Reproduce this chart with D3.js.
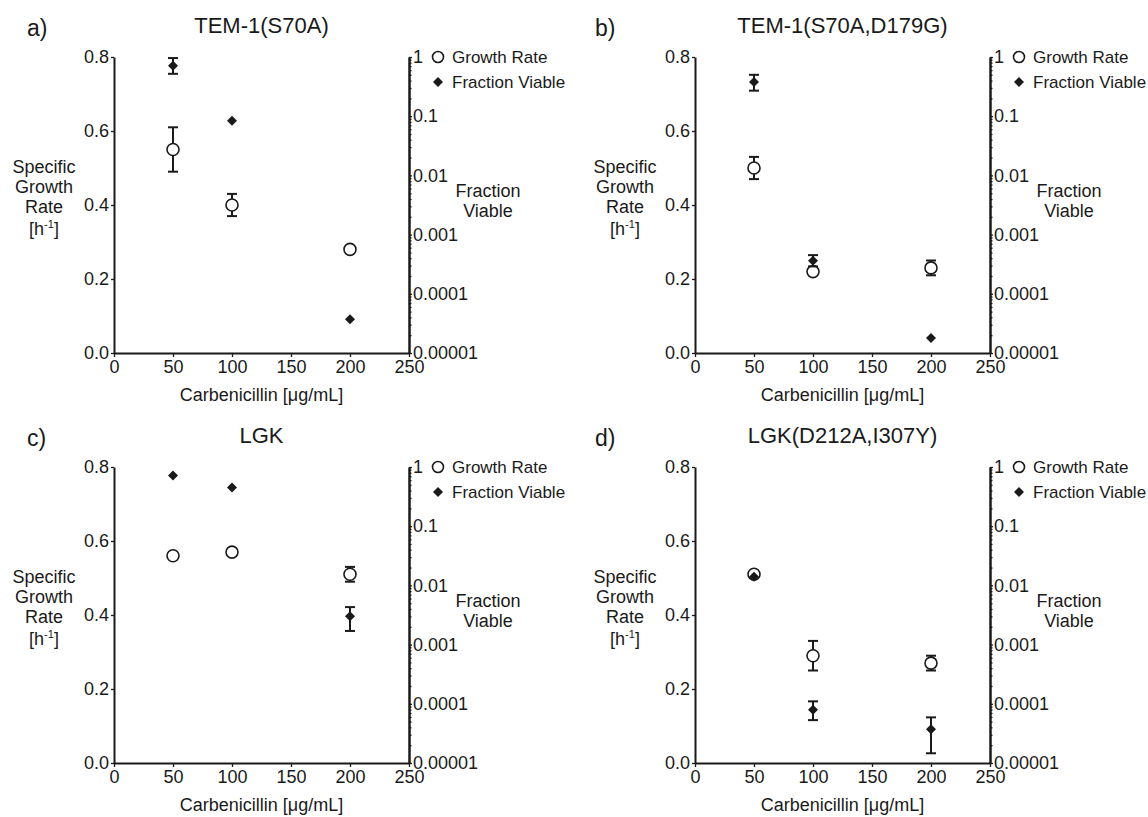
<!DOCTYPE html>
<html>
<head>
<meta charset="utf-8">
<script src="https://cdn.jsdelivr.net/npm/d3@7"></script>
<style>
  body { margin: 0; background: #fff; }
  text { font-family: "Liberation Sans", Arial, sans-serif; fill: #1a1a1a; }
</style>
</head>
<body>
<svg id="chart" width="1148" height="817"></svg>
<script>
// panels and doses
const panelLetters = ['a)', 'b)', 'c)', 'd)'];
const panelTitles = ['TEM-1(S70A)', 'TEM-1(S70A,D179G)', 'LGK', 'LGK(D212A,I307Y)'];
const doses = [50, 100, 200];

// specific growth rate [h-1], with error range (null = no bar)
const growthRate = [
  [0.55, 0.40, 0.28],
  [0.50, 0.22, 0.23],
  [0.56, 0.57, 0.51],
  [0.51, 0.29, 0.27]
];
const growthErr = [
  [[0.49, 0.61], [0.37, 0.43], null],
  [[0.47, 0.53], null, [0.21, 0.25]],
  [null, null, [0.49, 0.53]],
  [null, [0.25, 0.33], [0.25, 0.29]]
];

// fraction viable (log axis)
const fractionViable = [
  [0.71, 0.084, 0.000037],
  [0.38, 0.00036, 0.000018],
  [0.72, 0.45, 0.0030],
  [0.014, 0.000079, 0.000037]
];
const viableErr = [
  [[0.52, 0.96], null, null],
  [[0.27, 0.50], [0.00029, 0.00045], null],
  [null, null, [0.0017, 0.0043]],
  [null, [0.000053, 0.00011], [0.0000146, 0.000059]]
];

// axis ticks
const xTicks = [0, 50, 100, 150, 200, 250];
const yTicks = [0.0, 0.2, 0.4, 0.6, 0.8];
const logTicks = [1, 0.1, 0.01, 0.001, 0.0001, 0.00001];
const logTickLabels = ['1', '0.1', '0.01', '0.001', '0.0001', '0.00001'];
const legendLabels = ['Growth Rate', 'Fraction Viable'];

const plotW = 295, plotH = 296;
const origins = [[114, 57], [695, 57], [114, 467], [695, 467]];
const letterX = [-87, -100, -87, -100];
const ink = '#1a1a1a';

const x = d3.scaleLinear().domain([0, 250]).range([0, plotW]);
const y = d3.scaleLinear().domain([0, 0.8]).range([plotH, 0]);
const yLog = d3.scaleLog().domain([0.00001, 1]).range([plotH, 0]);

// minor ticks of the log axis
const minorTicks = [];
logTicks.slice(1).forEach(t => {
  for (let k = 2; k <= 9; k++) minorTicks.push(t * k);
});

const svg = d3.select('#chart');
svg.append('rect').attr('width', 1148).attr('height', 817).attr('fill', '#fff');

function diamond(cx, cy, h) {
  return `M${cx},${cy - h}L${cx + h},${cy}L${cx},${cy + h}L${cx - h},${cy}Z`;
}

function styleAxis(g) {
  g.select('.domain').attr('stroke', ink).attr('stroke-width', 2);
  g.selectAll('.tick line').attr('stroke', ink).attr('stroke-width', 1.3);
  g.selectAll('.tick text').style('font-size', '18px').attr('fill', ink);
}

panelTitles.forEach((title, p) => {
  const [ox, oy] = origins[p];
  const g = svg.append('g').attr('transform', `translate(${ox},${oy})`);

  // labels
  g.append('text').attr('x', letterX[p]).attr('y', -21)
    .style('font-size', '23px').text(panelLetters[p]);
  g.append('text').attr('x', plotW / 2).attr('y', -24)
    .attr('text-anchor', 'middle').style('font-size', '22px').text(title);

  // axes
  g.append('g').attr('transform', `translate(0,${plotH})`)
    .call(d3.axisBottom(x).tickValues(xTicks).tickSize(4).tickSizeOuter(0).tickPadding(3))
    .call(styleAxis);
  g.append('g')
    .call(d3.axisLeft(y).tickValues(yTicks).tickFormat(d3.format('.1f')).tickSize(3).tickSizeOuter(0).tickPadding(2))
    .call(styleAxis);
  const right = g.append('g').attr('transform', `translate(${plotW},0)`);
  right.append('g')
    .call(d3.axisRight(yLog).tickValues(minorTicks).tickFormat('').tickSize(2.5).tickSizeOuter(0))
    .call(styleAxis);
  right.append('g')
    .call(d3.axisRight(yLog).tickValues(logTicks).tickFormat((d, i) => logTickLabels[i]).tickSize(3).tickSizeOuter(0).tickPadding(1))
    .call(styleAxis);

  // x label
  g.append('text').attr('x', plotW / 2).attr('y', plotH + 48)
    .attr('text-anchor', 'middle').style('font-size', '18px')
    .text('Carbenicillin [\u03bcg/mL]');

  // left y label
  const yl = g.append('g').attr('text-anchor', 'middle').style('font-size', '18px');
  ['Specific', 'Growth', 'Rate'].forEach((s, i) => {
    yl.append('text').attr('x', -70).attr('y', 116 + i * 20).text(s);
  });
  const hl = yl.append('text').attr('x', -70).attr('y', 178);
  hl.append('tspan').text('[h');
  hl.append('tspan').attr('dy', -7).style('font-size', '11px').text('-1');
  hl.append('tspan').attr('dy', 7).text(']');

  // right y label
  ['Fraction', 'Viable'].forEach((s, i) => {
    g.append('text').attr('x', plotW + 79).attr('y', 140 + i * 20)
      .attr('text-anchor', 'middle').style('font-size', '18px').text(s);
  });

  // legend
  const lg = g.append('g').attr('transform', `translate(${plotW + 29},0)`);
  lg.append('circle').attr('cx', 0).attr('cy', 0).attr('r', 5.5)
    .attr('fill', '#fff').attr('stroke', ink).attr('stroke-width', 1.6);
  lg.append('path').attr('d', diamond(0, 25, 5)).attr('fill', ink);
  legendLabels.forEach((s, i) => {
    lg.append('text').attr('x', 14).attr('y', i * 25 + 6)
      .style('font-size', '17px').text(s);
  });

  const gr = doses.map((d, i) => ({ dose: d, v: growthRate[p][i], e: growthErr[p][i] }));
  const fv = doses.map((d, i) => ({ dose: d, v: fractionViable[p][i], e: viableErr[p][i] }));

  function errBars(data, scale) {
    const eb = g.append('g').attr('stroke', ink).attr('stroke-width', 2).attr('fill', 'none');
    data.filter(d => d.e).forEach(d => {
      const cx = x(d.dose), y1 = scale(d.e[0]), y2 = scale(d.e[1]);
      eb.append('line').attr('x1', cx).attr('x2', cx).attr('y1', y1).attr('y2', y2);
      eb.append('line').attr('x1', cx - 5).attr('x2', cx + 5).attr('y1', y1).attr('y2', y1);
      eb.append('line').attr('x1', cx - 5).attr('x2', cx + 5).attr('y1', y2).attr('y2', y2);
    });
  }

  // growth rate: error bars + open circles
  errBars(gr, y);
  g.selectAll('circle.gr').data(gr).enter().append('circle')
    .attr('class', 'gr')
    .attr('cx', d => x(d.dose)).attr('cy', d => y(d.v)).attr('r', 6)
    .attr('fill', '#fff').attr('stroke', ink).attr('stroke-width', 1.6);

  // fraction viable: error bars + filled diamonds
  errBars(fv, yLog);
  g.selectAll('path.fv').data(fv).enter().append('path')
    .attr('class', 'fv')
    .attr('d', d => diamond(x(d.dose), yLog(d.v), 5))
    .attr('fill', ink);
});
</script>
</body>
</html>
